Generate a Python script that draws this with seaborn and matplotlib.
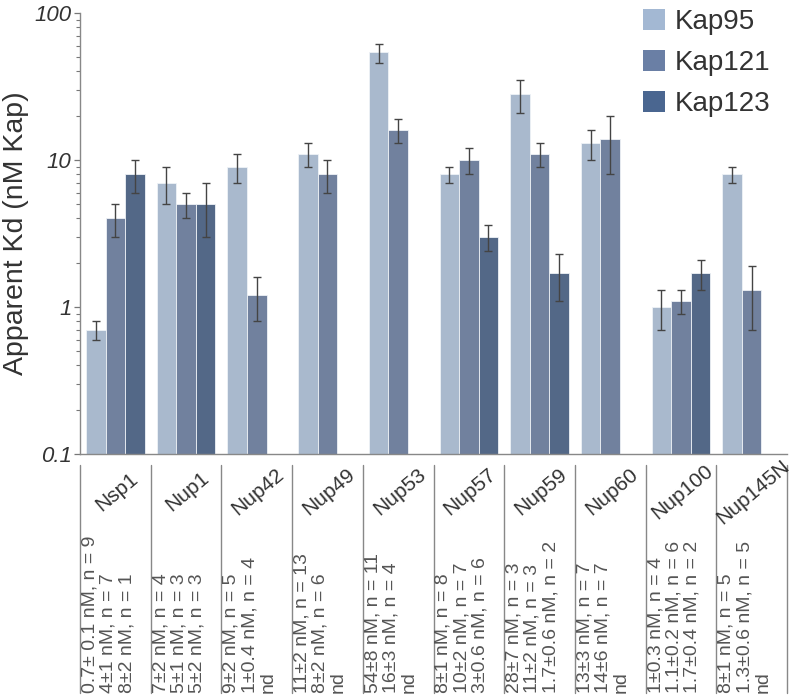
import numpy as np
import pandas as pd
import matplotlib
matplotlib.use('Agg')
import matplotlib.pyplot as plt
import matplotlib.transforms as mtransforms
from matplotlib.patches import Patch
from matplotlib.container import BarContainer
import seaborn as sns

# Data
nups = ['Nsp1', 'Nup1', 'Nup42', 'Nup49', 'Nup53', 'Nup57', 'Nup59', 'Nup60', 'Nup100', 'Nup145N']
kaps = ['Kap95', 'Kap121', 'Kap123']

kap95_kd = [0.7, 7, 9, 11, 54, 8, 28, 13, 1.0, 8]
kap95_err = [0.1, 2, 2, 2, 8, 1, 7, 3, 0.3, 1]
kap121_kd = [4, 5, 1.2, 8, 16, 10, 11, 14, 1.1, 1.3]
kap121_err = [1, 1, 0.4, 2, 3, 2, 2, 6, 0.2, 0.6]
kap123_kd = [8, 5, np.nan, np.nan, np.nan, 3, 1.7, np.nan, 1.7, np.nan]
kap123_err = [2, 2, np.nan, np.nan, np.nan, 0.6, 0.6, np.nan, 0.4, np.nan]

stats_text = [
    '0.7± 0.1 nM, n = 9\n4±1 nM, n = 7\n8±2 nM, n = 1',
    '7±2 nM, n = 4\n5±1 nM, n = 3\n5±2 nM, n = 3',
    '9±2 nM, n = 5\n1±0.4 nM, n = 4\nnd',
    '11±2 nM, n = 13\n8±2 nM, n = 6\nnd',
    '54±8 nM, n = 11\n16±3 nM, n = 4\nnd',
    '8±1 nM, n = 8\n10±2 nM, n = 7\n3±0.6 nM, n = 6',
    '28±7 nM, n = 3\n11±2 nM, n = 3\n1.7±0.6 nM, n = 2',
    '13±3 nM, n = 7\n14±6 nM, n = 7\nnd',
    '1±0.3 nM, n = 4\n1.1±0.2 nM, n = 6\n1.7±0.4 nM, n = 2',
    '8±1 nM, n = 5\n1.3±0.6 nM, n = 5\nnd',
]

colors = ['#a3b8d3', '#6a7fa5', '#4a6690']

kd_by_kap = [kap95_kd, kap121_kd, kap123_kd]
err_by_kap = [kap95_err, kap121_err, kap123_err]

# Long table for seaborn
rows = []
for kap, kds in zip(kaps, kd_by_kap):
    for nup, kd in zip(nups, kds):
        rows.append({'nup': nup, 'kap': kap, 'kd': kd})
df = pd.DataFrame(rows)

sns.set_style('white')
plt.rcParams['font.family'] = ['Liberation Sans', 'DejaVu Sans']

fig = plt.figure(figsize=(7.98, 6.96), dpi=100)
W, H = 798, 696
ax_left, ax_right, ax_top, ax_bottom = 80, 787, 13, 454
ax = fig.add_axes([ax_left / W, 1 - ax_bottom / H, (ax_right - ax_left) / W, (ax_bottom - ax_top) / H])

sns.barplot(data=df, x='nup', y='kd', hue='kap', order=nups, hue_order=kaps,
            palette=colors, errorbar=None, width=0.83, ax=ax,
            edgecolor='#eef2f6', linewidth=0.6, legend=False)

# error bars (copy the list first, errorbar() appends its own containers)
bar_containers = [c for c in ax.containers if isinstance(c, BarContainer)]
for j, container in enumerate(bar_containers):
    for bar in container:
        if bar is None:
            continue
        h = bar.get_height()
        if not np.isfinite(h) or h <= 0:
            continue
        xc = bar.get_x() + bar.get_width() / 2
        i = int(round(xc))
        ax.errorbar(xc, h, yerr=err_by_kap[j][i], fmt='none', ecolor='#444444',
                    elinewidth=1, capsize=3, capthick=1, zorder=5)

ax.set_yscale('log')
ax.set_ylim(0.1, 100)
ax.set_xlim(-0.5, len(nups) - 0.5)
ax.set_yticks([0.1, 1, 10, 100])
ax.set_yticklabels(['0.1', '1', '10', '100'], fontstyle='italic', fontsize=16, color='#333333')
ax.tick_params(axis='y', which='major', length=4.5, width=0.9, color='#777777', pad=1.5, left=True)
ax.tick_params(axis='y', which='minor', length=3, width=0.8, color='#777777', left=True)
ax.tick_params(axis='x', bottom=False, labelbottom=False)
ax.set_xlabel('')
ax.set_ylabel('Apparent Kd (nM Kap)', fontsize=20.5, color='#333333', labelpad=4)

for side in ['top', 'right']:
    ax.spines[side].set_visible(False)
for side in ['left', 'bottom']:
    ax.spines[side].set_color('#888888')
    ax.spines[side].set_linewidth(1)

# table underneath the axis
trans = mtransforms.blended_transform_factory(ax.transData, ax.transAxes)
def ay(px):
    return (ax_bottom - px) / (ax_bottom - ax_top)

for k in range(len(nups) + 1):
    ax.plot([k - 0.5, k - 0.5], [ay(465), ay(693)], transform=trans, color='#888888',
            lw=1, clip_on=False)

for i, (nup, txt) in enumerate(zip(nups, stats_text)):
    ax.text(i + 0.02, ay(492), nup, transform=trans, rotation=40, ha='center', va='center',
            rotation_mode='anchor', fontsize=15, color='#333333')
    ax.text(i - 0.48, ay(693), txt, transform=trans, rotation=90, ha='left', va='bottom',
            fontsize=14, color='#555555', linespacing=1.1)

handles = [Patch(facecolor=c, edgecolor='none') for c in colors]
fig.legend(handles, kaps, loc='upper left', bbox_to_anchor=(643 / W, 1 - 9 / H),
           bbox_transform=fig.transFigure, frameon=False, fontsize=20,
           handlelength=0.79, handleheight=0.79, handletextpad=0.35,
           labelspacing=0.53, borderpad=0, borderaxespad=0, labelcolor='#333333')

fig.savefig('out.png', dpi=100)
